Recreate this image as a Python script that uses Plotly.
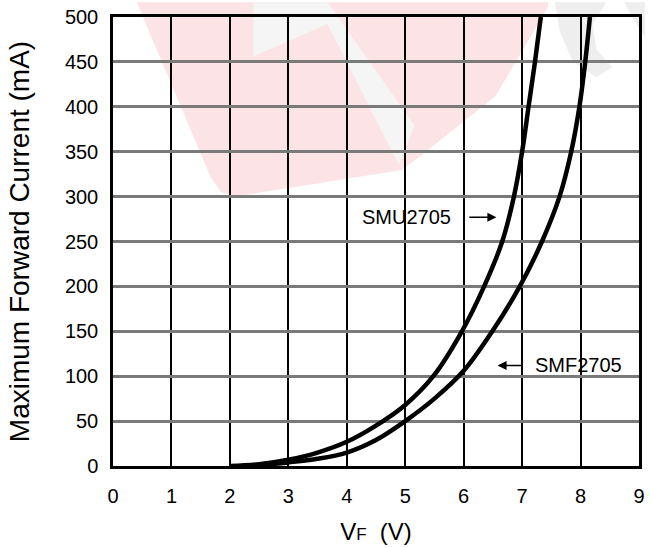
import plotly.graph_objects as go

# ---- data ----
smu_v = [2.0, 2.5, 3.0, 3.5, 4.0, 4.5, 5.0, 5.48, 5.97, 6.35, 6.66, 6.86, 7.0, 7.11, 7.22, 7.32]
smu_i = [0, 2, 7, 15, 27, 45, 68, 100, 150, 200, 250, 300, 350, 400, 450, 500]

smf_v = [2.22, 2.5, 3.0, 3.5, 4.0, 4.5, 5.0, 5.5, 6.0, 6.49, 6.96, 7.34, 7.64, 7.84, 7.98, 8.08, 8.16]
smf_i = [0, 1, 4, 8, 15, 29, 50, 75, 106, 150, 200, 250, 300, 350, 400, 450, 500]

x_ticks = [0, 1, 2, 3, 4, 5, 6, 7, 8, 9]
y_ticks = [0, 50, 100, 150, 200, 250, 300, 350, 400, 450, 500]

FONT = "Liberation Sans, Arial, Helvetica, sans-serif"

fig = go.Figure()
fig.add_trace(go.Scatter(x=smu_v, y=smu_i, mode="lines", name="SMU2705",
                         line=dict(color="black", width=4.5, shape="spline", smoothing=1.0)))
fig.add_trace(go.Scatter(x=smf_v, y=smf_i, mode="lines", name="SMF2705",
                         line=dict(color="black", width=4.5, shape="spline", smoothing=1.0)))

# faint background watermark (decoration, paper coordinates)
def px2paper(px, py):
    return (px - 113) / 532, (470 - py) / 455

def poly(points):
    pts = [px2paper(a, b) for a, b in points]
    return "M " + " L ".join(f"{x:.4f},{y:.4f}" for x, y in pts) + " Z"

pink = [(137, 0), (212, 178), (222, 192), (236, 197), (405, 170), (425, 155),
        (500, 95), (553, 5), (553, 0)]
grey_in = [(255, 0), (255, 55), (330, 22), (402, 165), (418, 125), (330, 0)]
grey_s1 = [(560, 0), (612, 0), (598, 22), (602, 48), (618, 66), (602, 76), (578, 60), (565, 30)]
grey_s2 = [(630, 0), (651, 0), (651, 35), (642, 22)]
shapes = [
    dict(type="path", xref="paper", yref="paper", path=poly(pink),
         fillcolor="#fce3e5", line=dict(width=0), layer="below"),
    dict(type="path", xref="paper", yref="paper", path=poly(grey_in),
         fillcolor="#f5f5f5", line=dict(width=0), layer="below"),
    dict(type="path", xref="paper", yref="paper", path=poly(grey_s1),
         fillcolor="#eeeeee", line=dict(width=0), layer="below"),
    dict(type="path", xref="paper", yref="paper", path=poly(grey_s2),
         fillcolor="#eeeeee", line=dict(width=0), layer="below"),
]

fig.update_layout(
    width=651, height=548,
    margin=dict(l=113, r=6, t=15, b=78),
    paper_bgcolor="white",
    plot_bgcolor="rgba(0,0,0,0)",
    showlegend=False,
    font=dict(family=FONT, color="black", size=20),
    shapes=shapes,
    xaxis=dict(
        range=[0, 9], tickvals=x_ticks, ticktext=[str(t) for t in x_ticks],
        showgrid=True, gridcolor="black", gridwidth=2,
        showline=True, linecolor="black", linewidth=2.5, mirror=True,
        zeroline=False, ticks="", ticklabelstandoff=10,
        tickfont=dict(size=20, family=FONT),
        title=dict(text="V<span style='font-size:17px'>F</span>\u00a0\u00a0(V)",
                   font=dict(size=24, family=FONT), standoff=18),
    ),
    yaxis=dict(
        range=[0, 500], tickvals=y_ticks, ticktext=[str(t) for t in y_ticks],
        showgrid=True, gridcolor="#7a7a7a", gridwidth=2.5,
        showline=True, linecolor="black", linewidth=2.5, mirror=True,
        zeroline=False, ticks="", ticklabelstandoff=8,
        tickfont=dict(size=20, family=FONT),
        title=dict(text="Maximum Forward Current (mA)",
                   font=dict(size=28, family=FONT), standoff=28),
    ),
    annotations=[
        dict(x=5.82, y=277, xref="x", yref="y", text="SMU2705", showarrow=False,
             xanchor="right", yanchor="middle", font=dict(size=20, family=FONT)),
        dict(x=6.56, y=277, ax=6.07, ay=277, xref="x", yref="y", axref="x", ayref="y",
             text="", showarrow=True, arrowhead=2, arrowsize=1.2, arrowwidth=1.5,
             arrowcolor="black"),
        dict(x=7.19, y=112, xref="x", yref="y", text="SMF2705", showarrow=False,
             xanchor="left", yanchor="middle", font=dict(size=20, family=FONT)),
        dict(x=6.58, y=112, ax=7.04, ay=112, xref="x", yref="y", axref="x", ayref="y",
             text="", showarrow=True, arrowhead=2, arrowsize=1.2, arrowwidth=1.5,
             arrowcolor="black"),
    ],
)

fig.write_html("out.html")
